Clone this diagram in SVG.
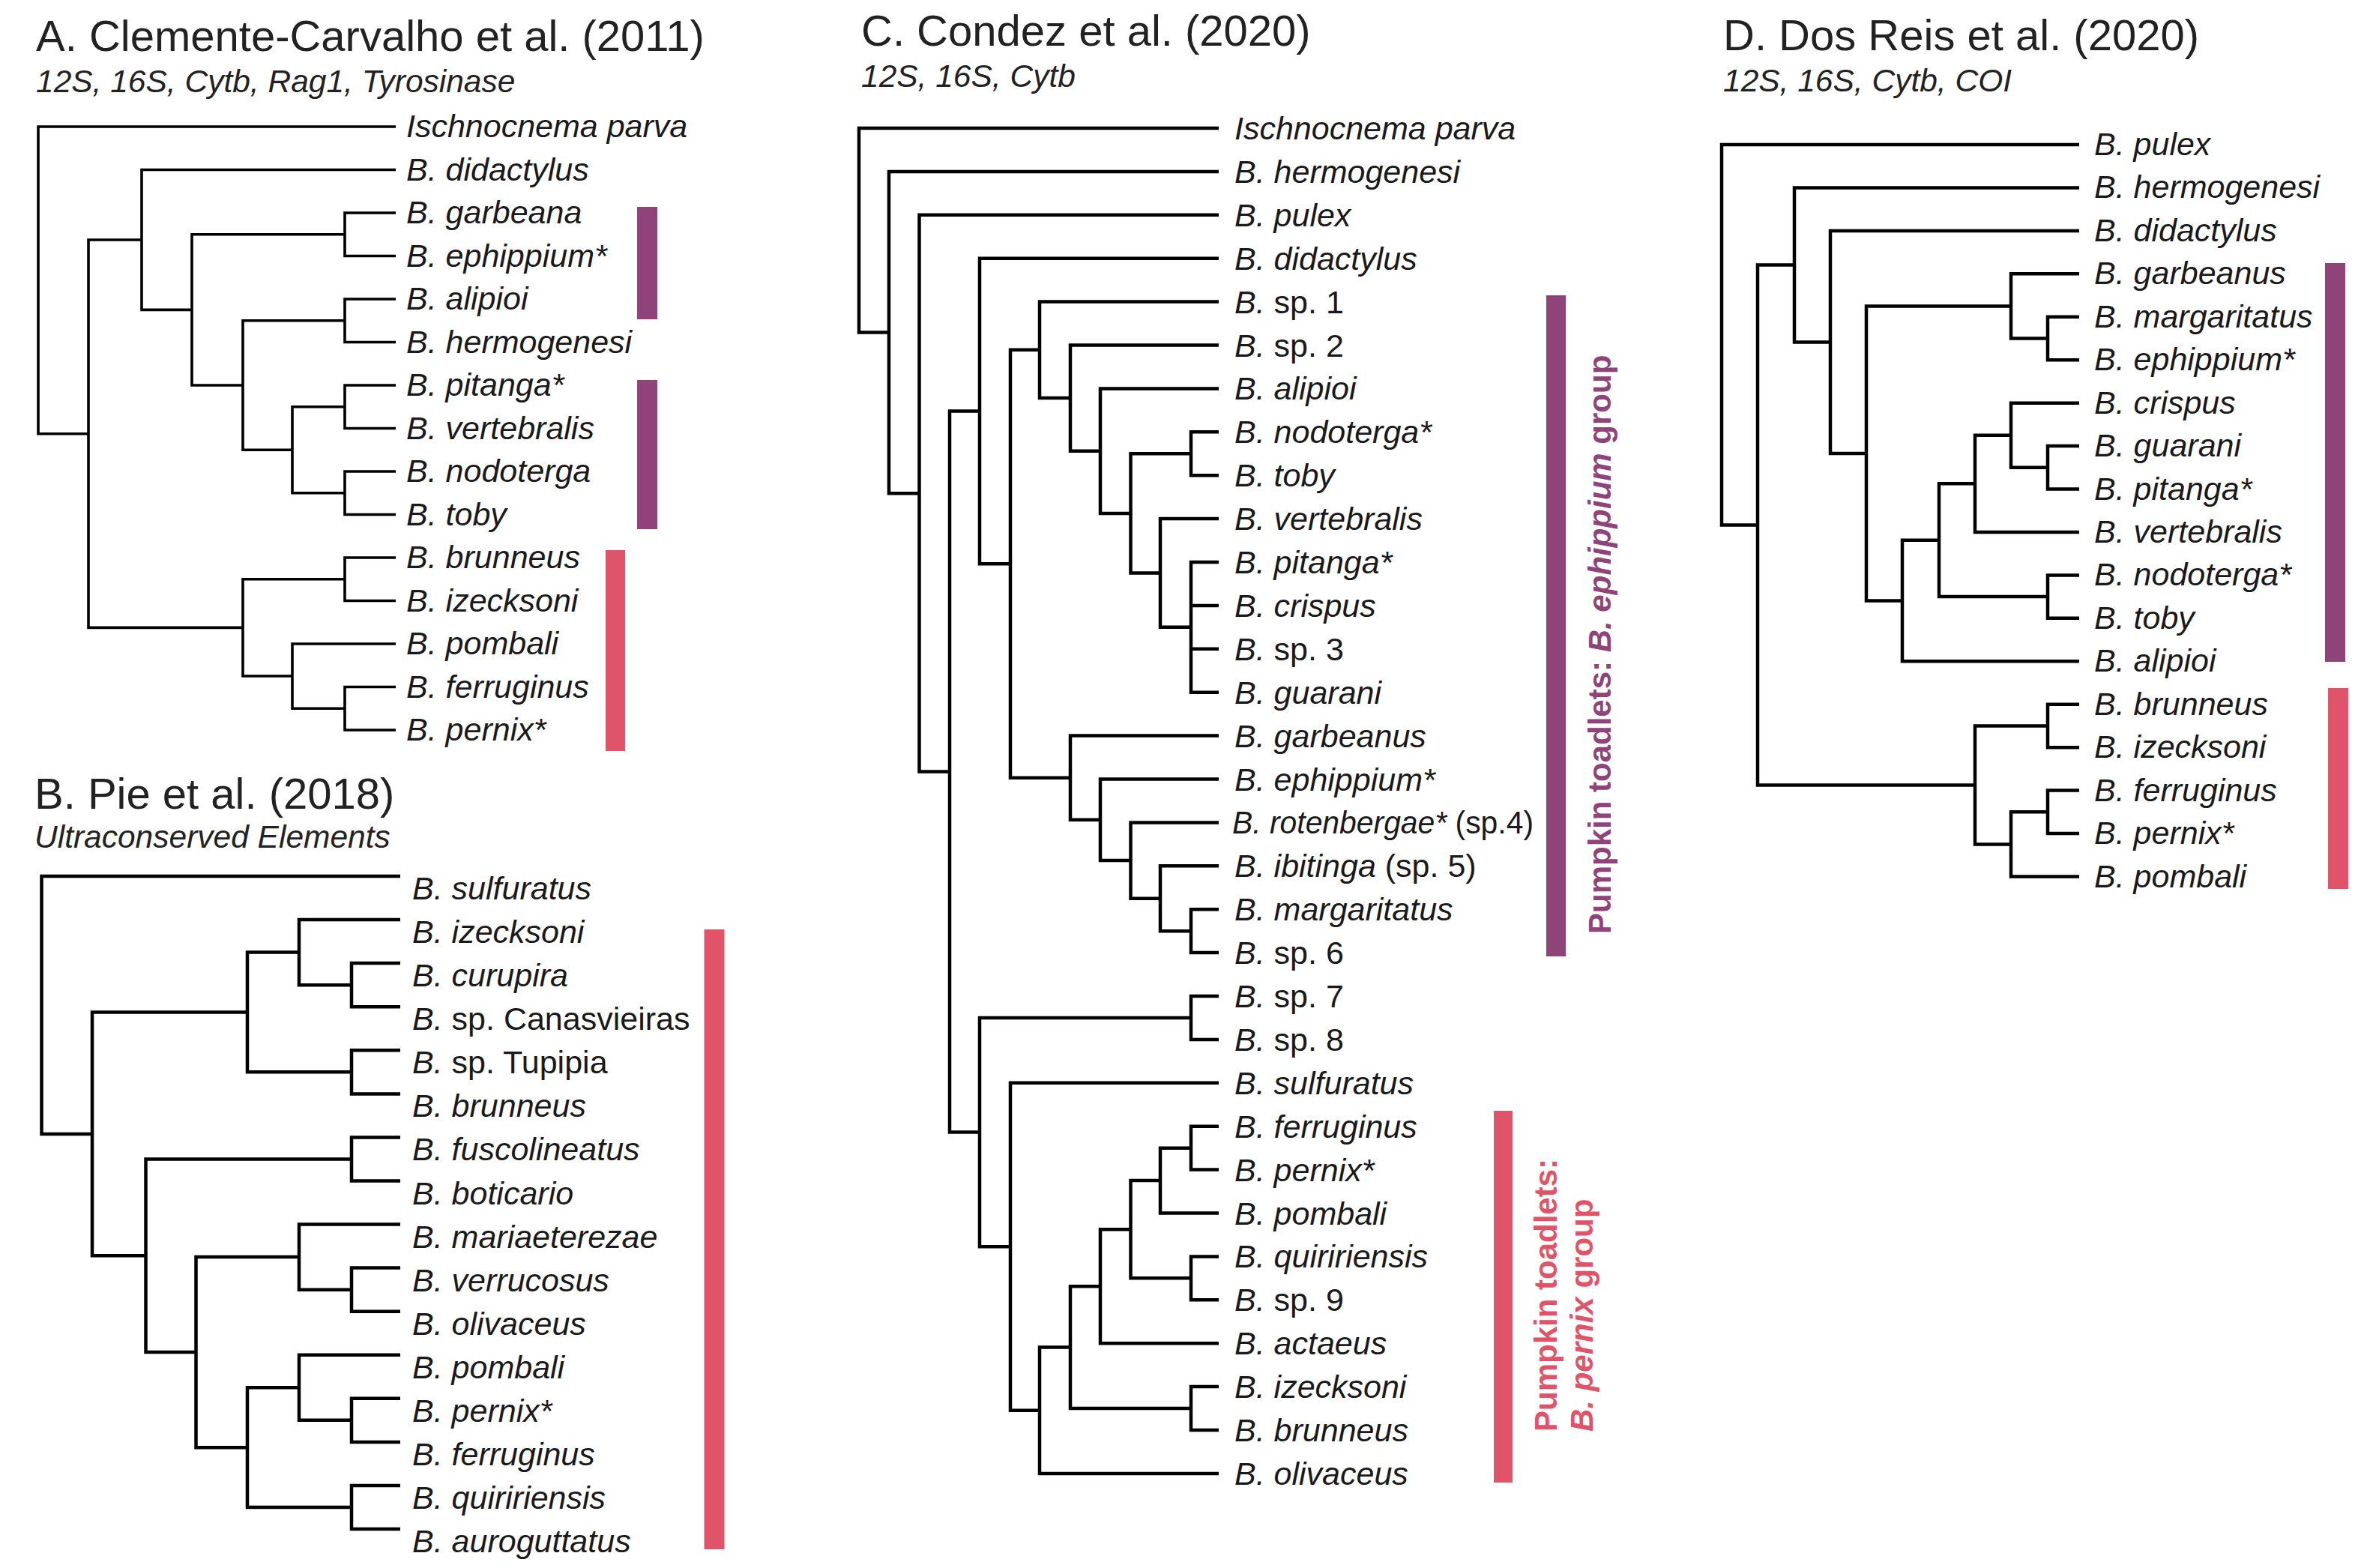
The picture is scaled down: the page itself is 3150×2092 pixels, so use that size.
<svg xmlns="http://www.w3.org/2000/svg" width="3150" height="2092" viewBox="0 0 3150 2092">
<style>
text{font-family:"Liberation Sans",Arial,Helvetica,sans-serif;fill:#1a1a1a}
.h{font-size:58px;fill:#222}
.s{font-size:42.5px;font-style:italic;fill:#222}
.t{font-size:43px;font-style:italic}
.u{font-style:normal}
.br{fill:none;stroke:#000;stroke-width:4.5;stroke-linejoin:miter}
.brA{stroke-width:3.6}
.pu{fill:#8E4478}
.pk{fill:#E0546A}
.rot{font-size:42px;font-weight:bold}
.rp{fill:#8E4478}
.rk{fill:#E0546A}
</style>
<rect width="3150" height="2092" fill="#fff"/>

<!-- Panel A -->
<g id="panelA">
<text class="h" x="48" y="68">A. Clemente-Carvalho et al. (2011)</text>
<text class="s" x="48" y="123">12S, 16S, Cytb, Rag1, Tyrosinase</text>
<g id="A-connectors" class="br brA">
<path d="M528 284H460V341.5H528"/>
<path d="M528 399H460V456.5H528"/>
<path d="M528 514H460V571.5H528"/>
<path d="M528 629H460V686.5H528"/>
<path d="M460 542.75H390V657.75H460"/>
<path d="M460 427.75H324V600.25H390"/>
<path d="M460 312.75H256V514H324"/>
<path d="M528 226.5H189V413.4H256"/>
<path d="M528 744H460V801.5H528"/>
<path d="M528 916.5H460V974H528"/>
<path d="M528 859H390V945.25H460"/>
<path d="M460 772.75H324V902H390"/>
<path d="M189 320H118V837.4H324"/>
<path d="M528 169H51V578.7H118"/>
</g>
<g id="A-taxa" class="t">
<text id="A-parva" x="542" y="183">Ischnocnema parva</text>
<text id="A-didactylus" x="542" y="240.5">B. didactylus</text>
<text id="A-garbeana" x="542" y="298">B. garbeana</text>
<text id="A-ephippium" x="542" y="355.5">B. ephippium*</text>
<text id="A-alipioi" x="542" y="413">B. alipioi</text>
<text id="A-hermogenesi" x="542" y="470.5">B. hermogenesi</text>
<text id="A-pitanga" x="542" y="528">B. pitanga*</text>
<text id="A-vertebralis" x="542" y="585.5">B. vertebralis</text>
<text id="A-nodoterga" x="542" y="643">B. nodoterga</text>
<text id="A-toby" x="542" y="700.5">B. toby</text>
<text id="A-brunneus" x="542" y="758">B. brunneus</text>
<text id="A-izecksoni" x="542" y="815.5">B. izecksoni</text>
<text id="A-pombali" x="542" y="873">B. pombali</text>
<text id="A-ferruginus" x="542" y="930.5">B. ferruginus</text>
<text id="A-pernix" x="542" y="988">B. pernix*</text>
</g>
<g id="A-bars">
<rect class="pu" x="850" y="276" width="27" height="150"/>
<rect class="pu" x="850" y="507" width="27" height="199"/>
<rect class="pk" x="808" y="734" width="26" height="268"/>
</g>
</g>

<!-- Panel B -->
<g id="panelB">
<text class="h" x="46" y="1079">B. Pie et al. (2018)</text>
<text class="s" x="46" y="1131">Ultraconserved Elements</text>
<g id="B-connectors" class="br">
<path d="M534 1285.1H469V1343.2H534"/>
<path d="M534 1227.1H399V1314.15H469"/>
<path d="M534 1401.3H469V1459.4H534"/>
<path d="M399 1270.6H330V1430.35H469"/>
<path d="M534 1517.4H469V1575.5H534"/>
<path d="M534 1691.6H469V1749.7H534"/>
<path d="M534 1633.6H399V1720.65H469"/>
<path d="M534 1865.8H469V1923.9H534"/>
<path d="M534 1807.8H399V1894.85H469"/>
<path d="M534 1982H469V2040H534"/>
<path d="M399 1851.3H330V2011H469"/>
<path d="M399 1677.1H261.5V1931.2H330"/>
<path d="M469 1546.45H194.5V1804.1H261.5"/>
<path d="M330 1350.5H123V1675.3H194.5"/>
<path d="M534 1169H55.5V1512.9H123"/>
</g>
<g id="B-taxa" class="t">
<text id="B-sulfuratus" x="550" y="1200">B. sulfuratus</text>
<text id="B-izecksoni" x="550" y="1258.1">B. izecksoni</text>
<text id="B-curupira" x="550" y="1316.1">B. curupira</text>
<text id="B-canasvieiras" x="550" y="1374.2">B. <tspan class="u">sp. Canasvieiras</tspan></text>
<text id="B-tupipia" x="550" y="1432.3">B. <tspan class="u">sp. Tupipia</tspan></text>
<text id="B-brunneus" x="550" y="1490.4">B. brunneus</text>
<text id="B-fuscolineatus" x="550" y="1548.4">B. fuscolineatus</text>
<text id="B-boticario" x="550" y="1606.5">B. boticario</text>
<text id="B-mariaeterezae" x="550" y="1664.6">B. mariaeterezae</text>
<text id="B-verrucosus" x="550" y="1722.6">B. verrucosus</text>
<text id="B-olivaceus" x="550" y="1780.7">B. olivaceus</text>
<text id="B-pombali" x="550" y="1838.8">B. pombali</text>
<text id="B-pernix" x="550" y="1896.8">B. pernix*</text>
<text id="B-ferruginus" x="550" y="1954.9">B. ferruginus</text>
<text id="B-quiririensis" x="550" y="2013">B. quiririensis</text>
<text id="B-auroguttatus" x="550" y="2071">B. auroguttatus</text>
</g>
<g id="B-bars">
<rect class="pk" x="939.5" y="1240" width="27" height="827"/>
</g>
</g>

<!-- Panel C -->
<g id="panelC">
<text class="h" x="1149" y="61">C. Condez et al. (2020)</text>
<text class="s" x="1149" y="116">12S, 16S, Cytb</text>
<g id="C-connectors" class="br">
<path d="M1626 576.3H1589V634.2H1626"/>
<path d="M1626 750H1589V923.7H1626M1589 807.9H1626M1589 865.8H1626"/>
<path d="M1626 692.1H1548V836.85H1589"/>
<path d="M1589 605.25H1508.5V764.5H1548"/>
<path d="M1626 518.4H1468V684.9H1508.5"/>
<path d="M1626 460.5H1428V601.65H1468"/>
<path d="M1626 402.6H1387V531.1H1428"/>
<path d="M1626 1213.2H1589V1271.1H1626"/>
<path d="M1626 1155.3H1548V1242.15H1589"/>
<path d="M1626 1097.4H1508.5V1198.7H1548"/>
<path d="M1626 1039.5H1468V1148.05H1508.5"/>
<path d="M1626 981.6H1428V1093.8H1468"/>
<path d="M1387 466.85H1348V1037.7H1428"/>
<path d="M1626 344.7H1307V752.3H1348"/>
<path d="M1626 1329H1589V1386.9H1626"/>
<path d="M1626 1502.7H1589V1560.6H1626"/>
<path d="M1589 1531.65H1548V1618.5H1626"/>
<path d="M1626 1676.4H1589V1734.3H1626"/>
<path d="M1548 1575.1H1508.5V1705.35H1589"/>
<path d="M1508.5 1640.2H1468V1792.2H1626"/>
<path d="M1626 1850.1H1589V1908H1626"/>
<path d="M1468 1716.2H1428V1879.05H1589"/>
<path d="M1428 1797.6H1387V1965.9H1626"/>
<path d="M1626 1444.8H1348V1881.75H1387"/>
<path d="M1589 1357.95H1307V1663.3H1348"/>
<path d="M1307 548.5H1267V1510.6H1307"/>
<path d="M1626 286.8H1226.5V1029.6H1267"/>
<path d="M1626 228.9H1186V658.2H1226.5"/>
<path d="M1626 171H1146V443.55H1186"/>
</g>
<g id="C-taxa" class="t">
<text id="C-parva" x="1647" y="186">Ischnocnema parva</text>
<text id="C-hermogenesi" x="1647" y="243.9">B. hermogenesi</text>
<text id="C-pulex" x="1647" y="301.8">B. pulex</text>
<text id="C-didactylus" x="1647" y="359.7">B. didactylus</text>
<text id="C-sp1" x="1647" y="417.6">B. <tspan class="u">sp. 1</tspan></text>
<text id="C-sp2" x="1647" y="475.5">B. <tspan class="u">sp. 2</tspan></text>
<text id="C-alipioi" x="1647" y="533.4">B. alipioi</text>
<text id="C-nodoterga" x="1647" y="591.3">B. nodoterga*</text>
<text id="C-toby" x="1647" y="649.2">B. toby</text>
<text id="C-vertebralis" x="1647" y="707.1">B. vertebralis</text>
<text id="C-pitanga" x="1647" y="765">B. pitanga*</text>
<text id="C-crispus" x="1647" y="822.9">B. crispus</text>
<text id="C-sp3" x="1647" y="880.8">B. <tspan class="u">sp. 3</tspan></text>
<text id="C-guarani" x="1647" y="938.7">B. guarani</text>
<text id="C-garbeanus" x="1647" y="996.6">B. garbeanus</text>
<text id="C-ephippium" x="1647" y="1054.5">B. ephippium*</text>
<text id="C-rotenbergae" x="1644" y="1112.4" textLength="402" lengthAdjust="spacingAndGlyphs">B. rotenbergae* <tspan class="u">(sp.4)</tspan></text>
<text id="C-ibitinga" x="1647" y="1170.3">B. ibitinga <tspan class="u">(sp. 5)</tspan></text>
<text id="C-margaritatus" x="1647" y="1228.2">B. margaritatus</text>
<text id="C-sp6" x="1647" y="1286.1">B. <tspan class="u">sp. 6</tspan></text>
<text id="C-sp7" x="1647" y="1344">B. <tspan class="u">sp. 7</tspan></text>
<text id="C-sp8" x="1647" y="1401.9">B. <tspan class="u">sp. 8</tspan></text>
<text id="C-sulfuratus" x="1647" y="1459.8">B. sulfuratus</text>
<text id="C-ferruginus" x="1647" y="1517.7">B. ferruginus</text>
<text id="C-pernix" x="1647" y="1575.6">B. pernix*</text>
<text id="C-pombali" x="1647" y="1633.5">B. pombali</text>
<text id="C-quiririensis" x="1647" y="1691.4">B. quiririensis</text>
<text id="C-sp9" x="1647" y="1749.3">B. <tspan class="u">sp. 9</tspan></text>
<text id="C-actaeus" x="1647" y="1807.2">B. actaeus</text>
<text id="C-izecksoni" x="1647" y="1865.1">B. izecksoni</text>
<text id="C-brunneus" x="1647" y="1923">B. brunneus</text>
<text id="C-olivaceus" x="1647" y="1980.9">B. olivaceus</text>
</g>
<g id="C-bars">
<rect class="pu" x="2063" y="394" width="26" height="882"/>
<rect class="pk" x="1993" y="1482" width="25" height="496"/>
<text class="rot rp" transform="translate(2149 1246) rotate(-90)">Pumpkin toadlets: <tspan font-style="italic">B. ephippium</tspan> group</text>
<text class="rot rk" transform="translate(2077 1910) rotate(-90)">Pumpkin toadlets:</text>
<text class="rot rk" transform="translate(2125 1910) rotate(-90)"><tspan font-style="italic">B. pernix</tspan> group</text>
</g>
</g>

<!-- Panel D -->
<g id="panelD">
<text class="h" x="2299" y="67">D. Dos Reis et al. (2020)</text>
<text class="s" x="2299" y="122">12S, 16S, Cytb, COI</text>
<g id="D-connectors" class="br">
<path d="M2774 422.76H2732V480.2H2774"/>
<path d="M2774 365.32H2683V451.48H2732"/>
<path d="M2774 595.08H2732V652.52H2774"/>
<path d="M2774 537.64H2683V623.8H2732"/>
<path d="M2683 580.72H2635V709.96H2774"/>
<path d="M2774 767.4H2732V824.84H2774"/>
<path d="M2635 645.34H2587V796.12H2732"/>
<path d="M2587 720.73H2538V882.28H2774"/>
<path d="M2683 408.4H2490V801.5H2538"/>
<path d="M2774 307.88H2442V604.95H2490"/>
<path d="M2774 250.44H2394V456.4H2442"/>
<path d="M2774 939.72H2732V997.16H2774"/>
<path d="M2774 1054.6H2732V1112.04H2774"/>
<path d="M2732 1083.32H2683V1169.48H2774"/>
<path d="M2732 968.44H2635V1126.4H2683"/>
<path d="M2394 353.4H2345V1047.42H2635"/>
<path d="M2774 193H2297V700.4H2345"/>
</g>
<g id="D-taxa" class="t">
<text id="D-pulex" x="2794" y="207">B. pulex</text>
<text id="D-hermogenesi" x="2794" y="264.4">B. hermogenesi</text>
<text id="D-didactylus" x="2794" y="321.9">B. didactylus</text>
<text id="D-garbeanus" x="2794" y="379.3">B. garbeanus</text>
<text id="D-margaritatus" x="2794" y="436.8">B. margaritatus</text>
<text id="D-ephippium" x="2794" y="494.2">B. ephippium*</text>
<text id="D-crispus" x="2794" y="551.6">B. crispus</text>
<text id="D-guarani" x="2794" y="609.1">B. guarani</text>
<text id="D-pitanga" x="2794" y="666.5">B. pitanga*</text>
<text id="D-vertebralis" x="2794" y="724">B. vertebralis</text>
<text id="D-nodoterga" x="2794" y="781.4">B. nodoterga*</text>
<text id="D-toby" x="2794" y="838.8">B. toby</text>
<text id="D-alipioi" x="2794" y="896.3">B. alipioi</text>
<text id="D-brunneus" x="2794" y="953.7">B. brunneus</text>
<text id="D-izecksoni" x="2794" y="1011.2">B. izecksoni</text>
<text id="D-ferruginus" x="2794" y="1068.6">B. ferruginus</text>
<text id="D-pernix" x="2794" y="1126">B. pernix*</text>
<text id="D-pombali" x="2794" y="1183.5">B. pombali</text>
</g>
<g id="D-bars">
<rect class="pu" x="3102" y="351" width="27" height="532"/>
<rect class="pk" x="3106" y="918" width="27" height="268"/>
</g>
</g>
</svg>
